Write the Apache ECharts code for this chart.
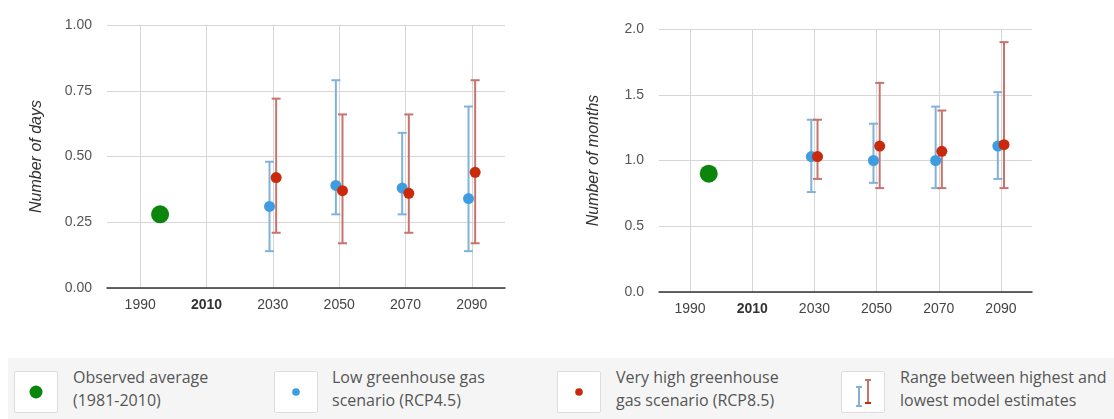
<!DOCTYPE html>
<html>
<head>
<meta charset="utf-8">
<script src="https://cdn.jsdelivr.net/npm/echarts@6/dist/echarts.min.js"></script>
<style>
  html, body { margin: 0; padding: 0; background: #fff; width: 1114px; height: 419px; overflow: hidden; }
  #chart { position: absolute; left: 0; top: 0; width: 1114px; height: 419px; }
  #legend { position: absolute; left: 8px; top: 358px; width: 1106px; height: 61px; background: #f5f5f5; }
  .box { position: absolute; top: 13px; width: 44px; height: 42px; background: #fff; border: 1px solid #ddd; border-radius: 2px; box-sizing: border-box; }
  .box svg { position: absolute; left: -1px; top: -1px; }
  .txt { position: absolute; top: 8px; font-family: "Open Sans", sans-serif; font-size: 16px; line-height: 23px; color: #555; white-space: nowrap; }
</style>
</head>
<body>
<div id="chart"></div>
<div id="legend"></div>
<script>
// ---- data ----
const tickYears = [1990, 2010, 2030, 2050, 2070, 2090];
const observedYear = 1996;
const scenarioYears = [2030, 2050, 2070, 2090];

const daysObserved = 0.28;
const daysLowMean = [0.31, 0.39, 0.38, 0.34];
const daysLowMin  = [0.14, 0.28, 0.28, 0.14];
const daysLowMax  = [0.48, 0.79, 0.59, 0.69];
const daysHighMean = [0.42, 0.37, 0.36, 0.44];
const daysHighMin  = [0.21, 0.17, 0.21, 0.17];
const daysHighMax  = [0.72, 0.66, 0.66, 0.79];

const monthsObserved = 0.9;
const monthsLowMean = [1.03, 1.00, 1.00, 1.11];
const monthsLowMin  = [0.76, 0.83, 0.79, 0.86];
const monthsLowMax  = [1.31, 1.28, 1.41, 1.52];
const monthsHighMean = [1.03, 1.11, 1.07, 1.12];
const monthsHighMin  = [0.86, 0.79, 0.79, 0.79];
const monthsHighMax  = [1.31, 1.59, 1.38, 1.90];

const legendLabels = [
  ['Observed average', '(1981-2010)'],
  ['Low greenhouse gas', 'scenario (RCP4.5)'],
  ['Very high greenhouse', 'gas scenario (RCP8.5)'],
  ['Range between highest and', 'lowest model estimates']
];
const yNames = ['Number of days', 'Number of months'];

// ---- styles ----
const GREEN = '#0b850b', BLUE = '#3d9de0', RED = '#c92a0c';
const BLUE_BAR = '#80b2da', RED_BAR = '#c8746d';
const SHIFT = 1; // year offset of scenario markers

const chart = echarts.init(document.getElementById('chart'), null, { renderer: 'canvas' });

function errRender(color) {
  return function (params, api) {
    const x = api.value(0), lo = api.value(1), hi = api.value(2);
    const a = api.coord([x, lo]), b = api.coord([x, hi]);
    const w = 4.5;
    const st = { stroke: color, lineWidth: 2 };
    return {
      type: 'group',
      children: [
        { type: 'line', shape: { x1: a[0], y1: a[1], x2: b[0], y2: b[1] }, style: st },
        { type: 'line', shape: { x1: a[0] - w, y1: a[1], x2: a[0] + w, y2: a[1] }, style: st },
        { type: 'line', shape: { x1: b[0] - w, y1: b[1], x2: b[0] + w, y2: b[1] }, style: st }
      ]
    };
  };
}

function xAxisCfg(gi) {
  return {
    gridIndex: gi, type: 'value', min: 1980, max: 2100,
    axisLine: { show: true, onZero: false, lineStyle: { color: '#333', width: 1.5 } },
    axisTick: { show: false, customValues: tickYears },
    axisLabel: {
      customValues: tickYears, margin: 10, fontFamily: 'Arial', fontSize: 14, color: '#444',
      formatter: v => v === 2010 ? '{b|' + v + '}' : String(v),
      rich: { b: { fontFamily: 'Arial', fontSize: 14, fontWeight: 'bold', color: '#333' } }
    },
    splitLine: { show: true, lineStyle: { color: '#d6d6d6', width: 1 } }
  };
}
function yAxisCfg(gi, max, interval, dec, name, gap) {
  return {
    gridIndex: gi, type: 'value', min: 0, max: max, interval: interval,
    name: name, nameLocation: 'middle', nameGap: gap, nameRotate: 90,
    nameTextStyle: { fontFamily: 'Arial', fontSize: 16, fontStyle: 'italic', color: '#333' },
    axisLine: { show: false }, axisTick: { show: false },
    axisLabel: { margin: 15, fontFamily: 'Arial', fontSize: 14, color: '#555', formatter: v => v.toFixed(dec) },
    splitLine: { lineStyle: { color: '#d6d6d6', width: 1 } }
  };
}

function seriesFor(gi, obs, lowMean, lowMin, lowMax, highMean, highMin, highMax) {
  return [
    { type: 'custom', xAxisIndex: gi, yAxisIndex: gi, renderItem: errRender(BLUE_BAR), z: 2,
      data: scenarioYears.map((y, i) => [y - SHIFT, lowMin[i], lowMax[i]]) },
    { type: 'custom', xAxisIndex: gi, yAxisIndex: gi, renderItem: errRender(RED_BAR), z: 2,
      data: scenarioYears.map((y, i) => [y + SHIFT, highMin[i], highMax[i]]) },
    { type: 'scatter', xAxisIndex: gi, yAxisIndex: gi, symbolSize: 11, z: 3,
      itemStyle: { color: BLUE, opacity: 1 }, data: scenarioYears.map((y, i) => [y - SHIFT, lowMean[i]]) },
    { type: 'scatter', xAxisIndex: gi, yAxisIndex: gi, symbolSize: 11, z: 4,
      itemStyle: { color: RED, opacity: 1 }, data: scenarioYears.map((y, i) => [y + SHIFT, highMean[i]]) },
    { type: 'scatter', xAxisIndex: gi, yAxisIndex: gi, symbolSize: 18, z: 4,
      itemStyle: { color: GREEN, opacity: 1 }, data: [[observedYear, obs]] }
  ];
}

chart.setOption({
  animation: false,
  grid: [
    { left: 107, top: 25, width: 398, height: 263 },
    { left: 659, top: 29, width: 373, height: 263 }
  ],
  xAxis: [xAxisCfg(0), xAxisCfg(1)],
  yAxis: [
    yAxisCfg(0, 1, 0.25, 2, yNames[0], 62),
    yAxisCfg(1, 2, 0.5, 1, yNames[1], 57)
  ],
  series: [].concat(
    seriesFor(0, daysObserved, daysLowMean, daysLowMin, daysLowMax, daysHighMean, daysHighMin, daysHighMax),
    seriesFor(1, monthsObserved, monthsLowMean, monthsLowMin, monthsLowMax, monthsHighMean, monthsHighMin, monthsHighMax)
  )
});

// ---- HTML legend ----
const boxX = [6, 266, 549, 833];
const textX = [65, 324, 608, 892];
const icons = [
  '<svg width="44" height="42"><circle cx="22" cy="21" r="6.5" fill="' + GREEN + '"/></svg>',
  '<svg width="44" height="42"><circle cx="22" cy="21" r="3.8" fill="' + BLUE + '"/></svg>',
  '<svg width="44" height="42"><circle cx="22" cy="21" r="3.8" fill="' + RED + '"/></svg>',
  '<svg width="44" height="42">' +
    '<g stroke="' + BLUE_BAR + '" stroke-width="2"><line x1="18" y1="16" x2="18" y2="35"/><line x1="15" y1="16" x2="21" y2="16"/><line x1="15" y1="35" x2="21" y2="35"/></g>' +
    '<g stroke="' + RED_BAR + '" stroke-width="2"><line x1="27" y1="9" x2="27" y2="32"/><line x1="24" y1="9" x2="30" y2="9"/><line x1="24" y1="32" x2="30" y2="32" stroke="' + RED + '"/></g>' +
  '</svg>'
];
const leg = document.getElementById('legend');
legendLabels.forEach((lines, i) => {
  const box = document.createElement('div');
  box.className = 'box';
  box.style.left = boxX[i] + 'px';
  box.innerHTML = icons[i];
  leg.appendChild(box);
  const t = document.createElement('div');
  t.className = 'txt';
  t.style.left = textX[i] + 'px';
  t.innerHTML = lines[0] + '<br>' + lines[1];
  leg.appendChild(t);
});
</script>
</body>
</html>
